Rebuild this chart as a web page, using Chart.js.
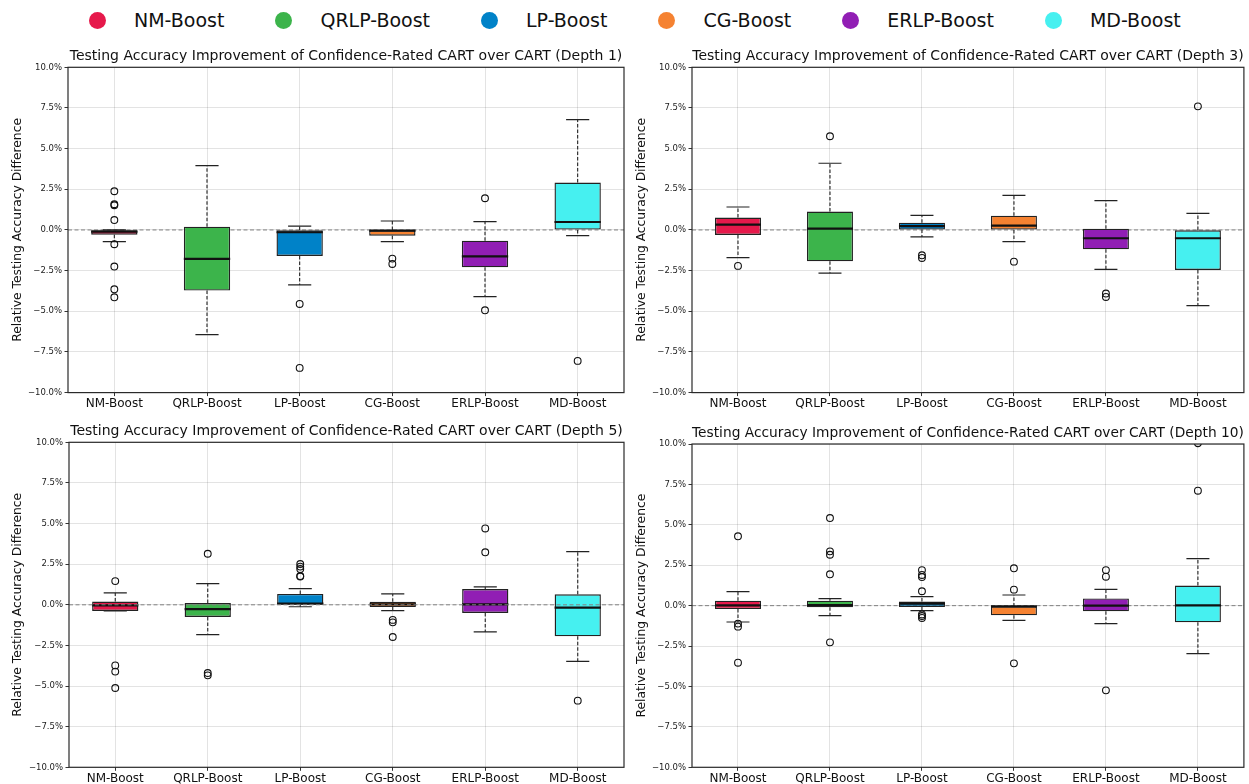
<!DOCTYPE html>
<html><head><meta charset="utf-8">
<script src="https://cdn.jsdelivr.net/npm/chart.js@4.4.1/dist/chart.umd.min.js"></script>
<style>
html,body{margin:0;padding:0;background:#fff;width:1249px;height:784px;overflow:hidden;font-family:'DejaVu Sans',sans-serif;}
canvas.panel{position:absolute;}
#legend{position:absolute;left:89px;top:0;height:40px;display:flex;align-items:center;}
.item{display:flex;align-items:center;margin-right:51px;font-size:19px;color:#111;white-space:nowrap;}
.dot{width:17px;height:17px;border-radius:50%;margin-right:28px;}
</style></head><body>
<div id="legend"></div>
<canvas id="c1" class="panel" style="left:0px;top:40px"></canvas>
<canvas id="c3" class="panel" style="left:630px;top:40px"></canvas>
<canvas id="c5" class="panel" style="left:0px;top:415px"></canvas>
<canvas id="c10" class="panel" style="left:630px;top:415px"></canvas>
<script>
// ---------------- DATA ----------------
const categories = ['NM-Boost','QRLP-Boost','LP-Boost','CG-Boost','ERLP-Boost','MD-Boost'];
const colors = ['#e6194b','#3cb44b','#0082c8','#f58231','#911eb4','#46f0f0'];
const yTicks = [-10,-7.5,-5,-2.5,0,2.5,5,7.5,10];

// Depth 1
const d1Q1  = [-0.29,-3.73,-1.60,-0.35,-2.30, 0.00];
const d1Q3  = [ 0.00, 0.20, 0.00, 0.00,-0.66, 2.91];
const d1Med = [-0.10,-1.78,-0.14,-0.04,-1.62, 0.49];
const d1Lo  = [-0.72,-6.43,-3.38,-0.72,-4.10,-0.35];
const d1Hi  = [ 0.00, 3.95, 0.23, 0.55, 0.51, 6.78];
const d1Out = [[2.38,1.58,1.52,0.61,-0.88,-2.25,-3.65,-4.14],[],[-4.55,-8.48],[-1.76,-2.09],[1.95,-4.94],[-8.05]];

// Depth 3
const d3Q1  = [-0.31,-1.93, 0.02, 0.00,-1.19,-2.46];
const d3Q3  = [ 0.76, 1.13, 0.45, 0.88, 0.08, 0.00];
const d3Med = [ 0.33, 0.08, 0.23, 0.27,-0.51,-0.51];
const d3Lo  = [-1.70,-2.66,-0.43,-0.72,-2.42,-4.65];
const d3Hi  = [ 1.41, 4.10, 0.90, 2.13, 1.80, 1.02];
const d3Out = [[-2.21],[5.76],[-1.56,-1.72],[-1.95],[-3.91,-4.12],[7.60]];

// Depth 5
const d5Q1  = [-0.38,-0.75, 0.00,-0.14,-0.50,-1.94];
const d5Q3  = [ 0.20, 0.11, 0.67, 0.19, 0.97, 0.65];
const d5Med = [-0.03,-0.26, 0.07, 0.03, 0.03,-0.17];
const d5Lo  = [-0.38,-1.84,-0.12,-0.36,-1.67,-3.48];
const d5Hi  = [ 0.73, 1.30, 0.99, 0.67, 1.10, 3.27];
const d5Out = [[1.46,-3.73,-4.11,-5.12],[3.14,-4.20,-4.34],[2.51,2.35,2.20,1.77,1.74],[-0.93,-1.08,-1.98],[4.70,3.23],[-5.90]];

// Depth 10
const d10Q1  = [-0.21,-0.10,-0.08,-0.60,-0.35,-1.03];
const d10Q3  = [ 0.31, 0.31, 0.25,-0.05, 0.45, 1.24];
const d10Med = [ 0.02, 0.04, 0.12,-0.05, 0.00, 0.02];
const d10Lo  = [-1.01,-0.62,-0.31,-0.91,-1.11,-2.97];
const d10Hi  = [ 0.87, 0.43, 0.56, 0.66, 1.01, 2.91];
const d10Out = [[4.29,-1.11,-1.30,-3.53],[5.42,3.36,3.15,1.94,-2.27],[2.20,1.90,1.77,0.89,-0.54,-0.64,-0.76],[2.31,0.99,-3.57],[2.20,1.79,-5.24],[7.11,10.05]];

// ---------------- LEGEND ----------------
const lg = document.getElementById('legend');
categories.forEach((c,i)=>{
  const it = document.createElement('div'); it.className='item';
  const d = document.createElement('div'); d.className='dot'; d.style.background=colors[i];
  const t = document.createElement('span'); t.textContent=c;
  it.appendChild(d); it.appendChild(t); lg.appendChild(it);
});

// ---------------- HELPERS ----------------
const FONT = "'DejaVu Sans', sans-serif";
const mctx = document.createElement('canvas').getContext('2d');
function fitSize(text, target, base){ mctx.font = base+'px '+FONT; return base*target/mctx.measureText(text).width; }

const boxExtras = {
  id:'boxExtras',
  beforeDatasetsDraw(chart){
    const o = chart.options.plugins.boxExtras, ctx = chart.ctx, y = chart.scales.y;
    const meta = chart.getDatasetMeta(0);
    ctx.save();
    if(!o.zeroOnTop) drawZero(chart);
    meta.data.forEach((bar,i)=>{
      const x = bar.x, w = bar.width;
      ctx.strokeStyle='#222'; ctx.lineWidth=1.1;
      ctx.setLineDash([3.5,2]);
      ctx.beginPath();
      ctx.moveTo(x, y.getPixelForValue(o.q1[i])); ctx.lineTo(x, y.getPixelForValue(o.lo[i]));
      ctx.moveTo(x, y.getPixelForValue(o.q3[i])); ctx.lineTo(x, y.getPixelForValue(o.hi[i]));
      ctx.stroke();
      ctx.setLineDash([]);
      ctx.lineWidth=1.2; ctx.strokeStyle='#222';
      ctx.beginPath();
      [o.lo[i],o.hi[i]].forEach(v=>{const py=y.getPixelForValue(v); ctx.moveTo(x-w/4,py); ctx.lineTo(x+w/4,py);});
      ctx.stroke();
    });
    ctx.restore();
  },
  afterDatasetsDraw(chart){
    const o = chart.options.plugins.boxExtras, ctx = chart.ctx, y = chart.scales.y;
    const meta = chart.getDatasetMeta(0);
    ctx.save();
    meta.data.forEach((bar,i)=>{
      const py = y.getPixelForValue(o.med[i]);
      ctx.strokeStyle='#111'; ctx.lineWidth=2.2;
      ctx.beginPath(); ctx.moveTo(bar.x-bar.width/2, py); ctx.lineTo(bar.x+bar.width/2, py); ctx.stroke();
    });
    if(o.zeroOnTop) drawZero(chart);
    ctx.restore();
  },
  afterDraw(chart){
    const ctx = chart.ctx, ca = chart.chartArea;
    ctx.save(); ctx.strokeStyle='#2a2a2a'; ctx.lineWidth=1.2;
    ctx.strokeRect(ca.left, ca.top, ca.right-ca.left, ca.bottom-ca.top);
    ctx.restore();
  }
};
function drawZero(chart){
  const ctx = chart.ctx, ca = chart.chartArea, py = chart.scales.y.getPixelForValue(0);
  ctx.save(); ctx.strokeStyle='#808080'; ctx.lineWidth=1; ctx.setLineDash([4,2.5]);
  ctx.beginPath(); ctx.moveTo(ca.left,py); ctx.lineTo(ca.right,py); ctx.stroke(); ctx.restore();
}

function makePanel(p){
  const cv = document.getElementById(p.id);
  cv.width = p.W; cv.height = p.H;
  const tfs = fitSize(p.title, p.titleW, 14);
  const yTitle = 'Relative Testing Accuracy Difference';
  const yfs = fitSize(yTitle, 224, 13);
  const outPts = [];
  p.out.forEach((arr,i)=>arr.forEach(v=>outPts.push({x:categories[i], y:v})));
  const gridCommon = {color:'rgba(0,0,0,0.16)', lineWidth:0.7, borderDash:[1,2], tickColor:'#333', tickLength:3.5, tickBorderDash:[], tickWidth:1};
  new Chart(cv, {
    type:'bar',
    data:{
      labels: categories,
      datasets:[
        {type:'bar', data: p.q1.map((v,i)=>[v,p.q3[i]]), backgroundColor: colors, borderColor:'#222', borderWidth:1.4, borderSkipped:false, barPercentage:0.5, categoryPercentage:1.0, order:2},
        {type:'line', data: outPts, showLine:false, pointRadius:3.4, pointBorderWidth:1.1, pointBorderColor:'#111', pointBackgroundColor:'rgba(255,255,255,0)', clip:0, order:1}
      ]
    },
    options:{
      responsive:false, animation:false, devicePixelRatio:1,
      layout:{padding:{left:0,right:p.W-p.areaR,top:0,bottom:0}},
      plugins:{
        legend:{display:false}, tooltip:{enabled:false},
        title:{display:true, text:p.title, fullSize:false, color:'#111',
          font:{family:FONT, size:tfs, weight:'normal', lineHeight:1.2},
          padding:{top:p.titleC - 0.6*tfs, bottom:p.areaT - p.titleC - 0.6*tfs}},
        boxExtras:{q1:p.q1,q3:p.q3,med:p.med,lo:p.lo,hi:p.hi,zeroOnTop:p.zeroOnTop}
      },
      scales:{
        x:{type:'category', offset:true,
          grid:Object.assign({offset:false, drawOnChartArea:true}, gridCommon),
          border:{display:false},
          ticks:{color:'#111', font:{family:FONT,size:12}, padding:1, maxRotation:0, autoSkip:false},
          afterFit:(s)=>{s.height = p.H - p.areaB;}
        },
        y:{min:-10, max:10,
          afterBuildTicks:(s)=>{s.ticks = yTicks.map(v=>({value:v}));},
          grid:gridCommon, border:{display:false},
          ticks:{color:'#222', font:{family:FONT,size:8.5}, padding:2.5,
            callback:(v)=>(v<0?'\u2212':'')+Math.abs(v).toFixed(1)+'%'},
          title:{display:true, text:yTitle, color:'#111', font:{family:FONT,size:yfs,lineHeight:1.2}, padding:{top:p.yTitleX - 0.6*yfs, bottom:0}},
          afterFit:(s)=>{s.width = p.areaL;}
        }
      }
    },
    plugins:[boxExtras]
  });
}

makePanel({id:'c1', W:630, H:372, areaL:68, areaR:624, areaT:27.3, areaB:352.6, titleC:16.7, titleW:553, yTitleX:18,
  title:'Testing Accuracy Improvement of Confidence-Rated CART over CART (Depth 1)',
  q1:d1Q1,q3:d1Q3,med:d1Med,lo:d1Lo,hi:d1Hi,out:d1Out,zeroOnTop:false});
makePanel({id:'c3', W:619, H:372, areaL:62, areaR:617, areaT:27.3, areaB:352.6, titleC:16.7, titleW:552, yTitleX:12,
  title:'Testing Accuracy Improvement of Confidence-Rated CART over CART (Depth 3)',
  q1:d3Q1,q3:d3Q3,med:d3Med,lo:d3Lo,hi:d3Hi,out:d3Out,zeroOnTop:false});
makePanel({id:'c5', W:630, H:369, areaL:69, areaR:624, areaT:27.3, areaB:352.3, titleC:16.7, titleW:553, yTitleX:18,
  title:'Testing Accuracy Improvement of Confidence-Rated CART over CART (Depth 5)',
  q1:d5Q1,q3:d5Q3,med:d5Med,lo:d5Lo,hi:d5Hi,out:d5Out,zeroOnTop:true});
makePanel({id:'c10', W:619, H:369, areaL:62, areaR:614, areaT:29, areaB:352.3, titleC:18.7, titleW:560, yTitleX:12,
  title:'Testing Accuracy Improvement of Confidence-Rated CART over CART (Depth 10)',
  q1:d10Q1,q3:d10Q3,med:d10Med,lo:d10Lo,hi:d10Hi,out:d10Out,zeroOnTop:false});
</script>
</body></html>
